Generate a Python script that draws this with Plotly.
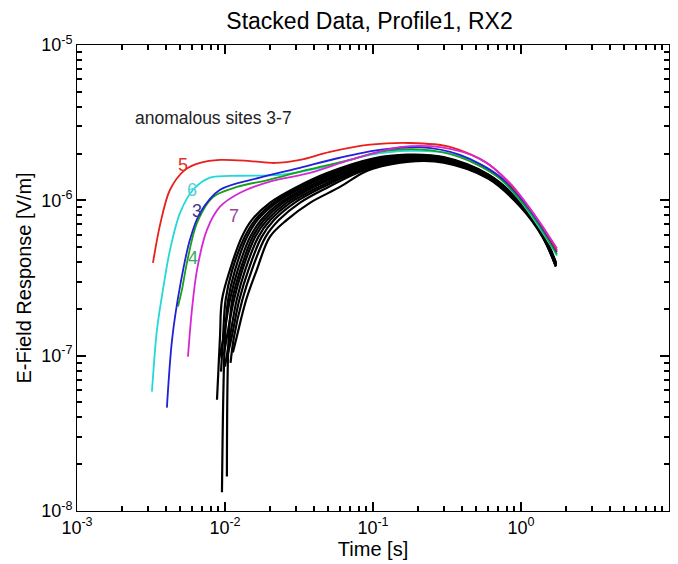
import math
import plotly.graph_objects as go

# ---------------- data ----------------
# anomalous sites (coloured)
t_site5 = [0.00326, 0.00364, 0.00425, 0.00537, 0.00678, 0.00925, 0.01476, 0.0218, 0.0321, 0.0512, 0.0955, 0.178, 0.331, 0.616, 0.984, 1.34, 1.75]
e_site5 = [3.96e-7, 6.95e-7, 1.17e-6, 1.57e-6, 1.74e-6, 1.82e-6, 1.79e-6, 1.74e-6, 1.82e-6, 2.05e-6, 2.28e-6, 2.34e-6, 2.21e-6, 1.69e-6, 1.07e-6, 7.2e-7, 4.75e-7]

t_site6 = [0.00321, 0.00347, 0.00381, 0.00425, 0.00497, 0.00608, 0.00793, 0.01265, 0.0236, 0.0439, 0.0955, 0.178, 0.331, 0.616, 0.984, 1.34, 1.75]
e_site6 = [5.87e-8, 1.47e-7, 2.66e-7, 4.8e-7, 8.3e-7, 1.17e-6, 1.40e-6, 1.44e-6, 1.46e-6, 1.62e-6, 1.96e-6, 2.08e-6, 2.0e-6, 1.57e-6, 1.0e-6, 6.6e-7, 4.4e-7]

t_site3 = [0.00405, 0.00439, 0.00497, 0.0058, 0.00678, 0.00925, 0.0172, 0.0321, 0.0598, 0.111, 0.208, 0.387, 0.721, 1.15, 1.75]
e_site3 = [4.63e-8, 1.27e-7, 2.8e-7, 5.6e-7, 8.3e-7, 1.17e-6, 1.4e-6, 1.62e-6, 1.88e-6, 2.11e-6, 2.2e-6, 1.96e-6, 1.42e-6, 8.7e-7, 4.66e-7]

t_site4 = [0.00481, 0.00512, 0.00553, 0.00647, 0.0083, 0.01205, 0.0201, 0.0358, 0.070, 0.111, 0.208, 0.387, 0.721, 1.15, 1.75]
e_site4 = [2.07e-7, 2.66e-7, 3.96e-7, 7.17e-7, 1.05e-6, 1.22e-6, 1.36e-6, 1.57e-6, 1.82e-6, 2.05e-6, 2.13e-6, 1.9e-6, 1.38e-6, 8.4e-7, 4.5e-7]

t_site7 = [0.00562, 0.00598, 0.00647, 0.00755, 0.00925, 0.01265, 0.0201, 0.0375, 0.070, 0.152, 0.284, 0.528, 0.843, 1.34, 1.75]
e_site7 = [9.86e-8, 1.98e-7, 3.57e-7, 6.46e-7, 9.1e-7, 1.12e-6, 1.32e-6, 1.5e-6, 1.82e-6, 2.2e-6, 2.2e-6, 1.85e-6, 1.29e-6, 7.2e-7, 4.9e-7]

# normal sites (black) : start point, rise (times at common E levels), common late times
e_rise = [1.32e-7, 2.29e-7, 3.57e-7, 5.82e-7, 7.49e-7, 9.64e-7, 1.22e-6, 1.5e-6]
t_late = [0.1, 0.17, 0.3, 0.6, 1.0, 1.4, 1.72]

black_start_t = [0.00883, 0.0094, 0.00954, 0.0091, 0.0103, 0.0098, 0.0100, 0.0104, 0.0109, 0.0113]
black_start_e = [5.2e-8, 7.9e-8, 1.32e-8, 9.5e-8, 1.67e-8, 1.0e-7, 8.5e-8, 1.0e-7, 9.0e-8, 1.05e-7]

black_rise_t = [
    [0.00925, 0.00954, 0.0108, 0.0130, 0.0152, 0.0201, 0.0306, 0.0489],
    [0.0097, 0.0101, 0.0112, 0.0136, 0.0160, 0.0212, 0.0322, 0.052],
    [0.0100, 0.0105, 0.0117, 0.0141, 0.0166, 0.0222, 0.0338, 0.055],
    [0.0098, 0.0108, 0.0122, 0.0148, 0.0176, 0.0235, 0.036, 0.058],
    [0.0106, 0.0112, 0.0127, 0.0154, 0.0184, 0.0246, 0.038, 0.062],
    [0.0103, 0.0115, 0.0131, 0.0160, 0.0193, 0.0260, 0.040, 0.066],
    [0.0108, 0.0120, 0.0137, 0.0168, 0.0203, 0.0275, 0.043, 0.070],
    [0.0111, 0.0125, 0.0144, 0.0177, 0.0215, 0.0295, 0.046, 0.074],
    [0.0115, 0.0131, 0.0152, 0.0188, 0.0232, 0.0320, 0.050, 0.078],
    [0.0120, 0.0139, 0.0164, 0.0201, 0.0262, 0.0375, 0.0598, 0.085],
]
black_late_e = [
    [1.86e-6, 1.97e-6, 1.90e-6, 1.47e-6, 9.7e-7, 6.2e-7, 4.0e-7],
    [1.84e-6, 1.95e-6, 1.88e-6, 1.46e-6, 9.6e-7, 6.15e-7, 3.95e-7],
    [1.80e-6, 1.93e-6, 1.87e-6, 1.45e-6, 9.5e-7, 6.1e-7, 3.9e-7],
    [1.78e-6, 1.91e-6, 1.85e-6, 1.44e-6, 9.45e-7, 6.05e-7, 3.9e-7],
    [1.75e-6, 1.89e-6, 1.84e-6, 1.43e-6, 9.4e-7, 6.0e-7, 3.85e-7],
    [1.72e-6, 1.87e-6, 1.82e-6, 1.42e-6, 9.3e-7, 5.95e-7, 3.85e-7],
    [1.69e-6, 1.85e-6, 1.81e-6, 1.41e-6, 9.25e-7, 5.9e-7, 3.8e-7],
    [1.66e-6, 1.83e-6, 1.79e-6, 1.40e-6, 9.2e-7, 5.9e-7, 3.8e-7],
    [1.63e-6, 1.80e-6, 1.77e-6, 1.39e-6, 9.1e-7, 5.85e-7, 3.75e-7],
    [1.60e-6, 1.77e-6, 1.75e-6, 1.38e-6, 9.0e-7, 5.8e-7, 3.75e-7],
]

x_ticks = [1e-3, 1e-2, 1e-1, 1e0, 1e1]
x_ticktext = ["10<sup>-3</sup>", "10<sup>-2</sup>", "10<sup>-1</sup>", "10<sup>0</sup>", "10<sup>1</sup>"]
y_ticks = [1e-8, 1e-7, 1e-6, 1e-5]
y_ticktext = ["10<sup>-8</sup>", "10<sup>-7</sup>", "10<sup>-6</sup>", "10<sup>-5</sup>"]

site_labels = ["5", "6", "3", "4", "7"]
label_t = [0.0052, 0.00598, 0.00647, 0.00605, 0.0115]
label_e = [1.69e-6, 1.17e-6, 8.56e-7, 4.27e-7, 7.94e-7]
label_colors = ["#e0302a", "#55d0d8", "#3a3a90", "#3aa860", "#a0409f"]

# ---------------- figure ----------------
FONT = "Arial, Liberation Sans, Helvetica, sans-serif"
fig = go.Figure()

for i in range(len(black_rise_t)):
    xs = [black_start_t[i]] + black_rise_t[i] + t_late
    ys = [black_start_e[i]] + e_rise + black_late_e[i]
    fig.add_trace(go.Scatter(x=xs, y=ys, mode="lines",
                             line=dict(color="black", width=2.2, shape="spline", smoothing=1.0),
                             showlegend=False, hoverinfo="skip"))

sites = [
    (t_site6, e_site6, "#22d8d8"),
    (t_site4, e_site4, "#18a018"),
    (t_site3, e_site3, "#2020d8"),
    (t_site5, e_site5, "#e8201c"),
    (t_site7, e_site7, "#d428d4"),
]
for tx, ey, col in sites:
    fig.add_trace(go.Scatter(x=tx, y=ey, mode="lines",
                             line=dict(color=col, width=1.8, shape="spline", smoothing=0.9),
                             showlegend=False, hoverinfo="skip"))

for lab, lt, le, lc in zip(site_labels, label_t, label_e, label_colors):
    fig.add_annotation(x=math.log10(lt), y=math.log10(le), text=lab, showarrow=False,
                       font=dict(family=FONT, size=18, color=lc), xanchor="center", yanchor="middle")

fig.add_annotation(x=math.log10(0.00239), y=math.log10(3.4e-6), text="anomalous sites 3-7",
                   showarrow=False, xanchor="left", yanchor="middle",
                   font=dict(family=FONT, size=17.5, color="#222222"))

axis_common = dict(type="log", showgrid=False, zeroline=False,
                   showline=True, linecolor="black", linewidth=1,
                   mirror="allticks", ticks="inside", ticklen=9, tickcolor="#000000",
                   tickwidth=2, layer="above traces",
                   tickfont=dict(family=FONT, size=18, color="black"))

fig.update_layout(
    width=678, height=564,
    margin=dict(l=77, r=9, t=45, b=53),
    paper_bgcolor="white", plot_bgcolor="white",
    title=dict(text="Stacked Data, Profile1, RX2", x=0.545, xanchor="center", y=0.963, yanchor="middle",
               font=dict(family=FONT, size=23, color="black")),
    xaxis=dict(**axis_common, range=[-3, 1], tickmode="array", tickvals=x_ticks, ticktext=x_ticktext,
               minor=dict(ticks="inside", ticklen=5, dtick="D1", tickwidth=1.5, tickcolor="#000000"),
               title=dict(text="Time [s]", font=dict(family=FONT, size=20, color="black"), standoff=2)),
    yaxis=dict(**axis_common, range=[-8, -5], tickmode="array", tickvals=y_ticks, ticktext=y_ticktext,
               minor=dict(ticks="inside", ticklen=5, dtick="D1", tickwidth=1.5, tickcolor="#000000"),
               title=dict(text="E-Field Response [V/m]", font=dict(family=FONT, size=20, color="black"), standoff=4)),
)

fig.write_html("out.html")
